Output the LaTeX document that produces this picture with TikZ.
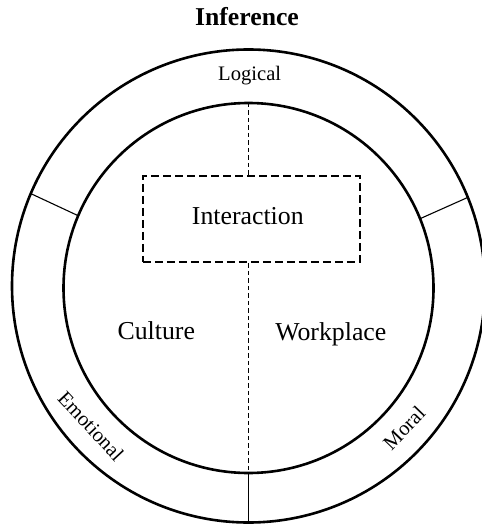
\documentclass[tikz,border=0pt]{standalone}
\usepackage{fontspec}
\setmainfont{Liberation Serif}
\begin{document}
\begin{tikzpicture}[x=1pt,y=-1pt,
  ring/.style={circle,draw,line width=2.6pt,inner sep=0pt,outer sep=0pt},
  divider/.style={line width=1.1pt},
  guide/.style={line width=0.9pt,dash pattern=on 4.5pt off 3pt},
  framebox/.style={draw,line width=2.6pt,dash pattern=on 8pt off 4pt,
    minimum width=217pt,minimum height=86pt,inner sep=0pt},
  bigtext/.style={font=\fontsize{25.8}{30}\selectfont,anchor=base,inner sep=0pt},
  ringtext/.style={font=\fontsize{20.6}{24}\selectfont,inner sep=0pt}]
  \useasboundingbox (0,0) rectangle (481,526);

  % two concentric rings
  \node[ring,minimum size=473pt] (outer) at (248.5,286) {};
  \node[ring,minimum size=370pt] (inner) at (248.5,288) {};

  % spokes separating the three outer sectors
  \draw[divider] (outer.157.5) -- (inner.157.5);
  \draw[divider] (outer.22.5) -- (inner.22.5);
  \draw[divider] (inner.south) -- (outer.south);

  % central dashed frame and its vertical guide
  \node[framebox] (frame) at (251.3,219) {};
  \draw[guide] (inner.north) -- (inner.north |- frame.north);
  \draw[guide] (inner.south |- frame.south) -- (inner.south);

  % labels
  \node[font=\fontsize{25.7}{30}\selectfont\bfseries,anchor=base,inner sep=0pt]
    (title) at (247,26) {Inference};
  \node[ringtext,anchor=base] (logical) at (249.7,81) {Logical};
  \node[ringtext,rotate=-47] (emotional) at (91,426) {Emotional};
  \node[ringtext,rotate=46] (moral) at (404,428) {Moral};
  \node[bigtext] (interaction) at (247.8,224.3) {Interaction};
  \node[bigtext] (culture) at (156.3,339) {Culture};
  \node[bigtext] (workplace) at (330.8,340.5) {Workplace};
\end{tikzpicture}
\end{document}
